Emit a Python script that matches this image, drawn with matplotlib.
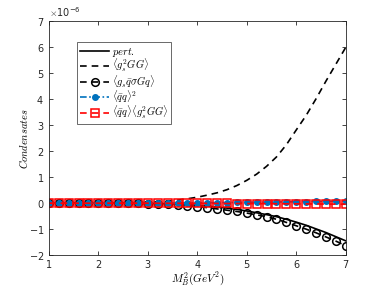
import numpy as np
import matplotlib
matplotlib.use('Agg')
from matplotlib import pyplot as plt

plt.rc('mathtext', fontset='cm')
plt.rc('font', size=7)
plt.rc('axes', edgecolor='#262626', linewidth=0.6)
plt.rc('xtick', color='#262626', direction='in', top=True)
plt.rc('ytick', color='#262626', direction='in', right=True)

# all series read at 0.2 GeV^2 steps, units of 1e-6
x = np.round(np.arange(1.0, 7.01, 0.2), 1)
pert = [0, 0, 0, 0, 0, 0, -0.001, -0.002, -0.004, -0.006, -0.01, -0.015, -0.025,
        -0.04, -0.06, -0.08, -0.11, -0.15, -0.19, -0.24, -0.30, -0.37, -0.44,
        -0.52, -0.62, -0.73, -0.85, -0.99, -1.13, -1.29, -1.45]
gg = [0, 0, 0, 0, 0, 0.002, 0.004, 0.007, 0.012, 0.02, 0.03, 0.05, 0.08,
      0.12, 0.17, 0.23, 0.31, 0.40, 0.52, 0.68, 0.88, 1.12, 1.42, 1.78,
      2.25, 2.82, 3.38, 4.02, 4.7, 5.35, 6.0]
mixed = [0, 0, 0, 0, 0, 0, 0, 0, -0.005, -0.01, -0.02, -0.03, -0.05, -0.07, -0.10,
         -0.13, -0.17, -0.22, -0.27, -0.32, -0.38, -0.45, -0.52, -0.62, -0.74,
         -0.87, -1.0, -1.14, -1.30, -1.46, -1.64]
qq2 = [0, 0, 0, 0, 0, 0, 0, 0, 0, 0, 0.002, 0.004, 0.006, 0.008, 0.01,
       0.013, 0.016, 0.02, 0.024, 0.028, 0.032, 0.036, 0.04, 0.045, 0.05,
       0.055, 0.06, 0.065, 0.07, 0.075, 0.08]
qqgg = [0, 0, 0, 0, 0, 0, 0, 0, 0, 0, -0.001, -0.002, -0.003, -0.004, -0.005,
        -0.006, -0.008, -0.01, -0.012, -0.014, -0.016, -0.018, -0.02, -0.022, -0.024,
        -0.026, -0.028, -0.03, -0.033, -0.036, -0.04]

labels = [r'$pert.$', r'$\langle g_s^2GG\rangle$', r'$\langle g_s\bar{q}\sigma Gq\rangle$',
          r'$\langle\bar{q}q\rangle^2$', r'$\langle\bar{q}q\rangle\langle g_s^2GG\rangle$']

fig = plt.figure(figsize=(3.82, 2.86), dpi=100)
ax = fig.add_axes([0.128, 0.108, 0.777, 0.817])

s = 1e-6
ax.plot(x, np.array(pert) * s, '-', color='k', lw=1.2, label=labels[0])
ax.plot(x, np.array(gg) * s, '--', color='k', lw=1.2, dashes=(4, 3), label=labels[1])
ax.plot(x, np.array(mixed) * s, '--', color='k', lw=1.2, marker='o', ms=5.5,
        mfc='none', mew=1.1, dashes=(4, 3), label=labels[2])
ax.plot(x, np.array(qq2) * s, color='#0072BD', lw=1.2, dashes=(4, 1.5, 1, 1.5),
        marker='o', ms=4, label=labels[3])
ax.plot(x, np.array(qqgg) * s, '--', color='#FF0000', lw=1.2, marker='s', ms=5.5,
        mfc='none', mew=1.1, dashes=(4, 3), label=labels[4])

ax.set_xlim(1, 7)
ax.set_ylim(-2e-6, 7e-6)
ax.set_xticks([1, 2, 3, 4, 5, 6, 7])
ax.set_yticks(np.arange(-2, 8) * 1e-6)
ax.ticklabel_format(axis='y', style='sci', scilimits=(0, 0), useMathText=True)
ax.yaxis.get_offset_text().set_fontsize(7)
ax.tick_params(length=3, width=0.6, labelcolor='#262626')

ax.set_xlabel(r'$M_B^2(GeV^2)$', fontsize=8, labelpad=0)
ax.set_ylabel(r'$Condensates$', fontsize=7.5, labelpad=-1)

leg = ax.legend(loc='upper left', bbox_to_anchor=(0.095, 0.91), fontsize=7.5,
                frameon=True, fancybox=False, edgecolor='#262626',
                handlelength=2.8, handletextpad=0.25, labelspacing=-0.12,
                borderpad=0.3, borderaxespad=0)
leg.get_frame().set_linewidth(0.6)

fig.savefig('out.png', dpi=100)
